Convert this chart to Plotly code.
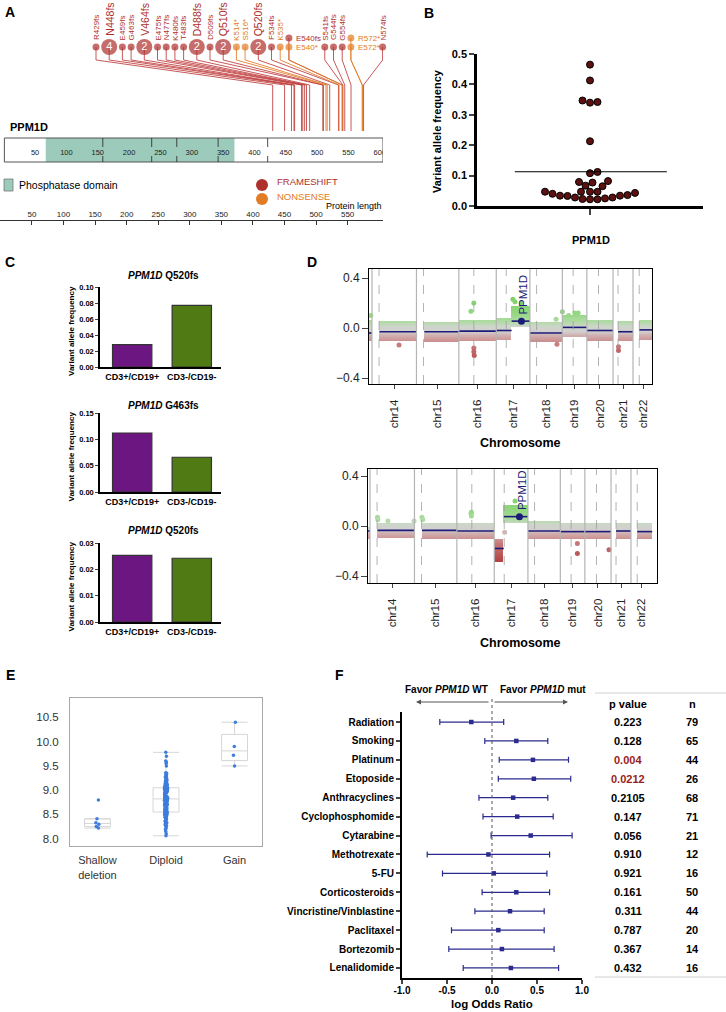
import numpy as np
import plotly.graph_objects as go

W, H = 726, 1012
FONT = "Liberation Sans, Arial, Helvetica, sans-serif"


def X(px):
    return px / W


def Y(py):
    return 1 - py / H


def xdom(a, b):
    return [X(a), X(b)]


def ydom(top, bot):
    return [Y(bot), Y(top)]


RED = "#AE2F2C"
ORANGE = "#E27B24"
RED_LINE = "rgba(190,60,60,0.85)"
ORANGE_LINE = "rgba(226,123,36,0.85)"
TEAL = "#9CCBBB"
PURPLE = "#6C1681"
GREEN = "#4F7A14"
NAVY = "#1C1C78"
BLUE_PT = "#3D7DDB"
FOREST = "#2B2B8F"

# ======================= DATA =======================
# --- A: PPM1D truncating mutations
mut_labels = ["R429fs", "N448fs", "E459fs", "G463fs", "V464fs", "E475fs", "N477fs",
              "K480fs", "T483fs", "D488fs", "D509fs", "Q510fs", "K514*", "S516*",
              "Q520fs", "F534fs", "K535*", "E540fs", "E540*", "S541fs", "G544fs",
              "G554fs", "R572*", "E572*", "N574fs"]
mut_pos = [429, 448, 459, 463, 464, 475, 477, 480, 483, 488, 509, 510, 514, 516,
           520, 534, 535, 540, 540, 541, 544, 554, 572, 572, 574]
mut_type = (["FRAMESHIFT"] * 12 + ["NONSENSE"] * 2 + ["FRAMESHIFT"] * 2 + ["NONSENSE"]
            + ["FRAMESHIFT", "NONSENSE"] + ["FRAMESHIFT"] * 3 + ["NONSENSE"] * 2 + ["FRAMESHIFT"])
mut_count = [1, 4, 1, 1, 2, 1, 1, 1, 1, 2, 1, 2, 1, 1, 2, 1, 1, 1, 1, 1, 1, 1, 1, 1, 1]
protein_start, protein_end = 1, 605
domain_start, domain_end = 67, 368
exon_bounds = [158, 236, 276, 342, 421]
bar_labels = [50, 100, 150, 200, 250, 300, 350, 400, 450, 500, 550, 600]
ruler_ticks = [50, 100, 150, 200, 250, 300, 350, 400, 450, 500, 550]

# --- B: VAF of PPM1D mutations
vaf_values = [0.465, 0.413, 0.342, 0.340, 0.347, 0.213, 0.112, 0.108, 0.082, 0.077,
              0.079, 0.067, 0.065, 0.047, 0.047, 0.047, 0.047, 0.040, 0.034, 0.033,
              0.028, 0.023, 0.022, 0.022, 0.025, 0.028, 0.034, 0.036, 0.043]

# --- C: sorted fractions
c_mutations = ["Q520fs", "G463fs", "Q520fs"]
c_groups = ["CD3+/CD19+", "CD3-/CD19-"]
c_vaf = [[0.028, 0.077], [0.112, 0.066], [0.0253, 0.0242]]
c_ymax = [0.10, 0.15, 0.03]
c_dtick = [0.02, 0.05, 0.01]

# --- D: copy number
chrom_names = ["chr13", "chr14", "chr15", "chr16", "chr17", "chr18", "chr19", "chr20", "chr21", "chr22"]
chrom_len = [115, 107, 102, 90, 81, 78, 59, 63, 48, 51]
chrom_cen = [17, 17, 17, 36, 24, 16, 26, 28, 12, 15]
ppm1d_chrom, ppm1d_mb = "chr17", 60.6

d1_chr = ["chr13", "chr14", "chr15", "chr16", "chr17", "chr17", "chr18", "chr19", "chr20", "chr21", "chr22"]
d1_start = [105, 18, 19, 0, 0, 37, 0, 0, 0, 12, 15]
d1_end = [115, 107, 102, 90, 37, 81, 78, 59, 63, 48, 51]
d1_mean = [-0.04, -0.03, -0.03, -0.025, -0.02, 0.055, -0.04, 0.005, -0.02, -0.03, -0.015]
d1_lo = [-0.10, -0.10, -0.11, -0.10, -0.095, 0.01, -0.11, -0.07, -0.10, -0.10, -0.09]
d1_hi = [0.07, 0.06, 0.055, 0.07, 0.08, 0.18, 0.05, 0.11, 0.07, 0.06, 0.07]
d1_out_chr = ["chr13", "chr14", "chr16", "chr16", "chr16", "chr16", "chr16", "chr17", "chr17",
              "chr17", "chr18", "chr18", "chr19", "chr19", "chr19", "chr19", "chr21", "chr21"]
d1_out_mb = [112, 65, 29, 36, 36, 36, 37, 40, 45, 60, 65, 63, 0, 15, 30, 38, 13, 13]
d1_out_val = [0.10, -0.135, 0.135, 0.20, -0.16, -0.19, -0.22, 0.23, 0.21, 0.20, -0.13, 0.07,
              0.13, 0.10, 0.12, 0.12, -0.15, -0.18]

d2_chr = ["chr13", "chr14", "chr15", "chr16", "chr17", "chr17", "chr18", "chr19", "chr20", "chr21", "chr22"]
d2_start = [108, 18, 18, 0, 0, 23, 0, 0, 0, 12, 15]
d2_end = [115, 107, 102, 90, 23, 81, 78, 59, 63, 48, 51]
d2_mean = [-0.04, -0.035, -0.035, -0.04, -0.18, 0.075, -0.04, -0.045, -0.045, -0.04, -0.045]
d2_lo = [-0.10, -0.095, -0.10, -0.10, -0.28, 0.03, -0.10, -0.10, -0.10, -0.10, -0.10]
d2_hi = [0.0, 0.03, 0.03, 0.025, -0.10, 0.17, 0.04, 0.03, 0.03, 0.03, 0.025]
d2_out_chr = ["chr14", "chr14", "chr14", "chr14", "chr15", "chr15", "chr16", "chr16", "chr16",
              "chr17", "chr17", "chr19", "chr19", "chr20"]
d2_out_mb = [18, 19, 43, 106, 18, 20, 34, 35, 35, 25, 50, 41, 41, 58]
d2_out_val = [0.07, 0.05, 0.04, 0.04, 0.07, 0.05, 0.10, 0.11, 0.08, -0.05, 0.20, -0.14, -0.22, -0.19]

# --- E: expression by copy number
e_categories = ["Shallow<br>deletion", "Diploid", "Gain"]
e_shallow = [8.22, 8.25, 8.30, 8.33, 8.41, 8.80]
e_diploid = [8.06, 8.10, 8.15, 8.19, 8.22, 8.25, 8.27, 8.29, 8.31, 8.33, 8.35, 8.36, 8.38, 8.39,
             8.41, 8.42, 8.43, 8.44, 8.45, 8.46, 8.47, 8.48, 8.49, 8.50, 8.50, 8.51, 8.52, 8.52,
             8.53, 8.53, 8.54, 8.54, 8.55,
             8.56, 8.57, 8.58, 8.59, 8.60, 8.61, 8.62, 8.63, 8.64, 8.65, 8.66, 8.67, 8.68, 8.69,
             8.70, 8.71, 8.71, 8.72, 8.73, 8.74, 8.75, 8.76, 8.76, 8.77, 8.78, 8.78, 8.79, 8.80,
             8.80, 8.81, 8.81, 8.82, 8.82,
             8.83, 8.84, 8.85, 8.85, 8.86, 8.87, 8.88, 8.88, 8.89, 8.90, 8.91, 8.91, 8.92, 8.93,
             8.94, 8.94, 8.95, 8.96, 8.97, 8.97, 8.98, 8.99, 9.00, 9.00, 9.01, 9.02, 9.02, 9.03,
             9.03, 9.04, 9.04, 9.05, 9.05,
             9.06, 9.07, 9.08, 9.09, 9.10, 9.11, 9.12, 9.13, 9.14, 9.15, 9.16, 9.17, 9.18, 9.19,
             9.20, 9.21, 9.22, 9.24, 9.25, 9.27, 9.29, 9.30, 9.32, 9.33, 9.35, 9.36, 9.50, 9.55,
             9.58, 9.60, 9.70, 9.78]
e_gain = [9.50, 9.72, 9.90, 10.40]

# --- F: forest plot
drugs = ["Radiation", "Smoking", "Platinum", "Etoposide", "Anthracyclines", "Cyclophosphomide",
         "Cytarabine", "Methotrexate", "5-FU", "Corticosteroids", "Vincristine/Vinblastine",
         "Paclitaxel", "Bortezomib", "Lenalidomide"]
log_or = [-0.23, 0.27, 0.455, 0.465, 0.235, 0.28, 0.43, -0.04, 0.02, 0.27, 0.20, 0.07, 0.11, 0.21]
ci_low = [-0.58, -0.08, 0.08, 0.07, -0.145, -0.10, -0.01, -0.72, -0.55, -0.11, -0.19, -0.45, -0.48, -0.32]
ci_high = [0.13, 0.62, 0.85, 0.875, 0.62, 0.68, 0.89, 0.64, 0.61, 0.64, 0.58, 0.58, 0.69, 0.74]
p_values = ["0.223", "0.128", "0.004", "0.0212", "0.2105", "0.147", "0.056", "0.910", "0.921",
            "0.161", "0.311", "0.787", "0.367", "0.432"]
n_patients = [79, 65, 44, 26, 68, 71, 21, 12, 16, 50, 44, 20, 14, 16]

# ======================= FIGURE =======================
fig = go.Figure()
shapes = []
ann = []


def txt(x, y, text, size=10, color="black", xanchor="center", yanchor="middle", angle=0,
        xref="paper", yref="paper", **kw):
    ann.append(dict(x=x, y=y, text=text, xref=xref, yref=yref, showarrow=False,
                    xanchor=xanchor, yanchor=yanchor, textangle=angle,
                    font=dict(family=FONT, size=size, color=color), **kw))


# ---------- Panel A ----------
A_PX = (0, 383)
A_RANGE = (-6, 605)
upp = (A_RANGE[1] - A_RANGE[0]) / (A_PX[1] - A_PX[0])


def a_unit(px):
    return A_RANGE[0] + (px - A_PX[0]) * upp


HEAD_Y, STACK_DY = 47, 9
R_SMALL, R_LARGE, GAP, CHAR_W = 3.5, 8.0, 1.7, 4.2
FIRST_HEAD_PX = 96
KINK_Y, DIAG_Y, STEM_END_Y = 60, 85, 131
BAR_TOP, BAR_BOT = 138, 162

nm = len(mut_pos)
groups = []
for i, p in enumerate(mut_pos):
    if groups and mut_pos[groups[-1][-1]] == p:
        groups[-1].append(i)
    else:
        groups.append([i])

head_px = [0.0] * nm
head_y = [0.0] * nm
stacked = [False] * nm
right = None
for g in groups:
    r = max(R_LARGE if mut_count[i] > 1 else R_SMALL for i in g)
    cx = FIRST_HEAD_PX if right is None else right + GAP + r
    for k, i in enumerate(g):
        head_px[i] = cx
        head_y[i] = HEAD_Y - STACK_DY * (len(g) - 1 - k)
        stacked[i] = len(g) > 1
    right = cx + r
    if len(g) > 1:
        right += 2 + max(len(mut_labels[i]) for i in g) * CHAR_W

type_col = {"FRAMESHIFT": RED, "NONSENSE": ORANGE}
type_line = {"FRAMESHIFT": RED_LINE, "NONSENSE": ORANGE_LINE}

# bar + domain
shapes.append(dict(type="rect", xref="x", yref="y", x0=domain_start, x1=domain_end,
                   y0=BAR_TOP, y1=BAR_BOT, fillcolor=TEAL, line=dict(width=0), layer="below"))
shapes.append(dict(type="rect", xref="x", yref="y", x0=protein_start, x1=protein_end,
                   y0=BAR_TOP, y1=BAR_BOT, fillcolor="rgba(0,0,0,0)", line=dict(color="#555", width=1)))
for b in exon_bounds:
    shapes.append(dict(type="line", xref="x", yref="y", x0=b, x1=b, y0=BAR_TOP, y1=BAR_BOT,
                       line=dict(color="#222", width=0.8, dash="dash")))
fig.add_trace(go.Scatter(x=bar_labels, y=[153] * len(bar_labels), text=[str(v) for v in bar_labels],
                         mode="text", textfont=dict(family=FONT, size=7.5, color="#222"),
                         xaxis="x", yaxis="y", hoverinfo="skip", cliponaxis=True))

for typ in ["FRAMESHIFT", "NONSENSE"]:
    xs, ys = [], []
    for i in range(nm):
        if mut_type[i] != typ:
            continue
        hx = a_unit(head_px[i])
        xs += [hx, hx, mut_pos[i], mut_pos[i], None]
        ys += [head_y[i], KINK_Y, DIAG_Y, STEM_END_Y, None]
    fig.add_trace(go.Scatter(x=xs, y=ys, mode="lines", line=dict(color=type_line[typ], width=1),
                             xaxis="x", yaxis="y", hoverinfo="skip"))
for typ in ["FRAMESHIFT", "NONSENSE"]:
    idx = [i for i in range(nm) if mut_type[i] == typ]
    fig.add_trace(go.Scatter(
        x=[a_unit(head_px[i]) for i in idx], y=[head_y[i] for i in idx],
        mode="markers+text",
        marker=dict(size=[2 * (R_LARGE if mut_count[i] > 1 else R_SMALL) for i in idx],
                    color=type_col[typ], line=dict(width=0)),
        text=[str(mut_count[i]) if mut_count[i] > 1 else "" for i in idx],
        textposition="middle center", textfont=dict(family=FONT, size=11, color="white"),
        xaxis="x", yaxis="y", hoverinfo="skip", cliponaxis=False))

for i in range(nm):
    big = mut_count[i] > 1
    r = R_LARGE if big else R_SMALL
    if stacked[i]:
        txt(a_unit(head_px[i] + r + 2), head_y[i], mut_labels[i], size=8, color=type_col[mut_type[i]],
            xanchor="left", yanchor="middle", xref="x", yref="y")
    else:
        txt(a_unit(head_px[i]), head_y[i] - r - 1, mut_labels[i], size=10.5 if big else 8,
            color=type_col[mut_type[i]], xanchor="center", yanchor="bottom", angle=-90,
            xref="x", yref="y")

txt(X(8), Y(127), "<b>PPM1D</b>", size=11, xanchor="left")
# legend
shapes.append(dict(type="rect", xref="paper", yref="paper", x0=X(4), x1=X(13), y0=Y(191), y1=Y(179),
                   fillcolor=TEAL, line=dict(color="#777", width=0.8)))
txt(X(17), Y(185), "Phosphatase domain", size=10.5, xanchor="left")
fig.add_trace(go.Scatter(x=[a_unit(262), a_unit(262)], y=[185, 199], mode="markers",
                         marker=dict(size=12, color=[RED, ORANGE]), xaxis="x", yaxis="y",
                         hoverinfo="skip", cliponaxis=False))
txt(X(275), Y(182), "FRAMESHIFT", size=9.5, color=RED, xanchor="left")
txt(X(275), Y(196), "NONSENSE", size=9.5, color=ORANGE, xanchor="left")
txt(X(384), Y(206), "Protein length", size=9, xanchor="right")
# ruler axis needs a trace
fig.add_trace(go.Scatter(x=[ruler_ticks[0]], y=[0], mode="markers", marker=dict(opacity=0),
                         xaxis="x2", yaxis="y", hoverinfo="skip"))
txt(X(10), Y(12), "<b>A</b>", size=14)

# ---------- Panel B ----------
B_XPX, B_YPX = (477, 703), (54, 206)
B_XR, B_YR = (-1.0, 1.0), (0.0, 0.5)
px_x = (B_XPX[1] - B_XPX[0]) / (B_XR[1] - B_XR[0])
px_y = (B_YPX[1] - B_YPX[0]) / (B_YR[1] - B_YR[0])
DOT = 7.4
bv = np.array(vaf_values)
order = np.argsort(bv, kind="stable")
placed = []
off = np.zeros(len(bv))
cands = [0.0]
for j in range(1, 400):
    cands += [0.5 * j, -0.5 * j]
for i in order:
    yp = bv[i] * px_y
    for c in cands:
        if all((c - qx) ** 2 + (yp - qy) ** 2 >= DOT ** 2 for qx, qy in placed):
            break
    placed.append((c, yp))
    off[i] = c / px_x
fig.add_trace(go.Scatter(x=off, y=bv, mode="markers",
                         marker=dict(size=7, color="#5C1010", line=dict(color="black", width=1)),
                         xaxis="x3", yaxis="y3", hoverinfo="skip", cliponaxis=False))
mean_vaf = float(np.mean(bv))
shapes.append(dict(type="line", xref="x3", yref="y3", x0=-0.665, x1=0.68, y0=mean_vaf, y1=mean_vaf,
                   line=dict(color="black", width=1.2)))
txt(X(437), Y(131), "<b>Variant allele frequency</b>", size=11, angle=-90)
txt(X(591), Y(240), "<b>PPM1D</b>", size=11)
txt(X(429), Y(13), "<b>B</b>", size=14)

# ---------- Panel C ----------
C_YPX = [(287, 367), (413, 492), (543, 622)]
C_TITLE_Y = [275, 405, 530]
for k in range(3):
    n = 4 + k
    fig.add_trace(go.Bar(x=c_groups, y=c_vaf[k], width=0.66,
                         marker=dict(color=[PURPLE, GREEN], line=dict(color="#333", width=1.2)),
                         xaxis=f"x{n}", yaxis=f"y{n}", hoverinfo="skip"))
    txt(X(163), Y(C_TITLE_Y[k]), f"<b><i>PPM1D</i> {c_mutations[k]}</b>", size=10)
    mid = (C_YPX[k][0] + C_YPX[k][1]) / 2 + 4
    txt(X(71), Y(mid), "<b>Variant allele frequency</b>", size=8, angle=-90)
txt(X(10), Y(262), "<b>C</b>", size=14)

# ---------- Panel D ----------
chrom_off = {}
acc = -chrom_len[0]
for c, L in zip(chrom_names, chrom_len):
    chrom_off[c] = acc
    acc += L

CN_ZMIN, CN_ZMAX = -0.30, 0.25
cn_stops = [(-0.30, "#b23b3b"), (-0.14, "#c67878"), (-0.07, "#d0a6a6"), (-0.025, "#d3cfcf"),
            (0.015, "#ccd6c9"), (0.05, "#b0dba4"), (0.12, "#94d782"), (0.25, "#7fcf66")]
cn_scale = [[(v - CN_ZMIN) / (CN_ZMAX - CN_ZMIN), c] for v, c in cn_stops]

D_CFG = [
    dict(n=7, xr=(-7.2, 673.7), yr=(-0.448, 0.472), chr=d1_chr, s=d1_start, e=d1_end, m=d1_mean,
         lo=d1_lo, hi=d1_hi, oc=d1_out_chr, om=d1_out_mb, ov=d1_out_val, title_y=443),
    dict(n=8, xr=(-4.8, 690.6), yr=(-0.456, 0.456), chr=d2_chr, s=d2_start, e=d2_end, m=d2_mean,
         lo=d2_lo, hi=d2_hi, oc=d2_out_chr, om=d2_out_mb, ov=d2_out_val, title_y=643),
]
xgrid = np.arange(-8, 700, 1.2)
ygrid = np.arange(-0.45, 0.475, 0.005)
for cfg in D_CFG:
    n = cfg["n"]
    z = np.full((len(ygrid), len(xgrid)), np.nan)
    for c, s, e, lo, hi in zip(cfg["chr"], cfg["s"], cfg["e"], cfg["lo"], cfg["hi"]):
        o = chrom_off[c]
        mx = (xgrid >= o + s) & (xgrid < o + e)
        my = (ygrid >= lo) & (ygrid <= hi)
        z[np.ix_(my, mx)] = np.repeat(ygrid[my][:, None], mx.sum(), axis=1)
    fig.add_trace(go.Heatmap(x=xgrid, y=ygrid, z=z, colorscale=cn_scale, zmin=CN_ZMIN, zmax=CN_ZMAX,
                             showscale=False, hoverinfo="skip", xaxis=f"x{n}", yaxis=f"y{n}"))
    fig.add_trace(go.Scatter(x=[chrom_off[c] + p for c, p in zip(cfg["oc"], cfg["om"])], y=cfg["ov"],
                             mode="markers",
                             marker=dict(size=5, color=cfg["ov"], colorscale=cn_scale,
                                         cmin=CN_ZMIN, cmax=CN_ZMAX, line=dict(width=0)),
                             xaxis=f"x{n}", yaxis=f"y{n}", hoverinfo="skip"))
    sx, sy = [], []
    for c, s, e, m in zip(cfg["chr"], cfg["s"], cfg["e"], cfg["m"]):
        o = chrom_off[c]
        sx += [o + s, o + e, None]
        sy += [m, m, None]
    fig.add_trace(go.Scatter(x=sx, y=sy, mode="lines", line=dict(color=NAVY, width=1.6),
                             xaxis=f"x{n}", yaxis=f"y{n}", hoverinfo="skip"))
    # PPM1D marker
    pm = None
    for c, s, e, m in zip(cfg["chr"], cfg["s"], cfg["e"], cfg["m"]):
        if c == ppm1d_chrom and s <= ppm1d_mb < e:
            pm = m
    px_ = chrom_off[ppm1d_chrom] + ppm1d_mb
    fig.add_trace(go.Scatter(x=[px_], y=[pm], mode="markers", marker=dict(size=7, color=NAVY),
                             xaxis=f"x{n}", yaxis=f"y{n}", hoverinfo="skip"))
    txt(px_, pm, "PPM1D", size=11.5, color=NAVY, xanchor="center", yanchor="bottom", angle=-90,
        xref=f"x{n}", yref=f"y{n}", yshift=5, xshift=2)
    # chromosome boundaries / centromeres
    for c, cen in zip(chrom_names, chrom_cen):
        o = chrom_off[c]
        if cfg["xr"][0] < o < cfg["xr"][1]:
            shapes.append(dict(type="line", xref=f"x{n}", yref=f"y{n} domain", x0=o, x1=o, y0=0, y1=1,
                               line=dict(color="#b4b4b4", width=1.2)))
        if cfg["xr"][0] < o + cen < cfg["xr"][1]:
            shapes.append(dict(type="line", xref=f"x{n}", yref=f"y{n} domain", x0=o + cen, x1=o + cen,
                               y0=0, y1=1, line=dict(color="#a0a0a0", width=0.8, dash="dash")))
    txt(X(520), Y(cfg["title_y"]), "<b>Chromosome</b>", size=12.5)
txt(X(312), Y(262), "<b>D</b>", size=14)

chrom_centers = [chrom_off[c] + L / 2 for c, L in zip(chrom_names[1:], chrom_len[1:])]

# ---------- Panel E ----------
ex, ey = [], []
for cat, vals in zip(e_categories, [e_shallow, e_diploid, e_gain]):
    ex += [cat] * len(vals)
    ey += vals
fig.add_trace(go.Box(x=ex, y=ey, boxpoints="all", jitter=0.14, pointpos=0, quartilemethod="exclusive",
                     whiskerwidth=1, fillcolor="rgba(255,255,255,0)", line=dict(color="#d6d6d6", width=1),
                     marker=dict(size=3.5, color=BLUE_PT), xaxis="x9", yaxis="y9", hoverinfo="skip"))
txt(X(10), Y(675), "<b>E</b>", size=14)

# ---------- Panel F ----------
rows = list(range(len(drugs)))
fig.add_trace(go.Scatter(
    x=log_or, y=rows, mode="markers",
    marker=dict(size=4.5, color=FOREST, symbol="square"),
    error_x=dict(type="data", symmetric=False,
                 array=[h - c for h, c in zip(ci_high, log_or)],
                 arrayminus=[c - l for c, l in zip(log_or, ci_low)],
                 color=FOREST, thickness=1.2, width=3),
    xaxis="x10", yaxis="y10", hoverinfo="skip"))
shapes.append(dict(type="line", xref="x10", yref="paper", x0=0, x1=0, y0=Y(978), y1=Y(696),
                   line=dict(color="#555", width=1, dash="dot")))
# arrows
ann.append(dict(x=X(416), y=Y(702), xref="paper", yref="paper", ax=74, ay=0, text="", showarrow=True,
                arrowhead=2, arrowsize=1, arrowwidth=1, arrowcolor="#555"))
ann.append(dict(x=X(568), y=Y(702), xref="paper", yref="paper", ax=-75, ay=0, text="", showarrow=True,
                arrowhead=2, arrowsize=1, arrowwidth=1, arrowcolor="#555"))
txt(X(446), Y(689), "<b>Favor <i>PPM1D</i> WT</b>", size=10)
txt(X(543), Y(689), "<b>Favor <i>PPM1D</i> mut</b>", size=10)
txt(X(492), Y(1004), "<b>log Odds Ratio</b>", size=11.5)
# table
shapes.append(dict(type="line", xref="paper", yref="paper", x0=X(595), x1=X(726), y0=Y(693), y1=Y(693),
                   line=dict(color="#d0d0d0", width=1)))
shapes.append(dict(type="line", xref="paper", yref="paper", x0=X(595), x1=X(726), y0=Y(977), y1=Y(977),
                   line=dict(color="#d0d0d0", width=1)))
txt(X(628), Y(704), "<b>p value</b>", size=11)
txt(X(692), Y(704), "<b>n</b>", size=11)
for r, pv, nn in zip(rows, p_values, n_patients):
    col = "#9B1C1C" if float(pv) < 0.05 else "black"
    txt(X(628), r, f"<b>{pv}</b>", size=11, color=col, yref="y10")
    txt(X(692), r, f"<b>{nn}</b>", size=11, yref="y10")
txt(X(339), Y(675), "<b>F</b>", size=14)

# ======================= LAYOUT =======================
hidden = dict(visible=False, showgrid=False, zeroline=False, automargin=False)
bold = lambda s, c="black": dict(family=FONT, size=s, color=c, weight="bold")
layout = dict(
    template="none",
    width=W, height=H, margin=dict(l=0, r=0, t=0, b=0, autoexpand=False),
    paper_bgcolor="white", plot_bgcolor="white", showlegend=False,
    font=dict(family=FONT, size=10, color="black"),
    boxgap=0.46,
    xaxis=dict(domain=xdom(*A_PX), range=list(A_RANGE), anchor="y", **hidden),
    yaxis=dict(domain=ydom(0, 230), range=[230, 0], anchor="x", **hidden),
    xaxis2=dict(domain=xdom(*A_PX), range=[-0.6, 606], anchor="free", position=Y(220), side="top",
                overlaying="x", tickvals=ruler_ticks, ticks="inside", ticklen=4, tickcolor="#333",
                showline=True, linecolor="#333", linewidth=1, showgrid=False, zeroline=False,
                tickfont=dict(family=FONT, size=8, color="#222")),
    xaxis3=dict(domain=xdom(*B_XPX), range=list(B_XR), anchor="y3", showline=True, linecolor="black",
                linewidth=2.5, ticks="outside", tickvals=[0], ticklen=6, tickwidth=2, showticklabels=False,
                showgrid=False, zeroline=False),
    yaxis3=dict(domain=ydom(*B_YPX), range=list(B_YR), anchor="x3", showline=True, linecolor="black",
                linewidth=2.5, ticks="outside", ticklen=5, tickwidth=2, dtick=0.1, tickformat=".1f",
                tickfont=bold(11), showgrid=False, zeroline=False),
    xaxis7=dict(domain=xdom(369, 652), range=list(D_CFG[0]["xr"]), anchor="y7", showline=True, mirror=True,
                linecolor="black", linewidth=1, ticks="outside", ticklen=4, tickvals=chrom_centers,
                ticktext=chrom_names[1:], tickangle=-90, ticklabelstandoff=6,
                tickfont=dict(family=FONT, size=11.5, color="#222"), showgrid=False, zeroline=False),
    yaxis7=dict(domain=ydom(269, 384), range=list(D_CFG[0]["yr"]), anchor="x7", showline=True, mirror=True,
                linecolor="black", linewidth=1, ticks="outside", ticklen=6, tickvals=[-0.4, 0, 0.4],
                ticktext=["\u22120.4", "0.0", "0.4"], tickfont=dict(family=FONT, size=12, color="#222"),
                showgrid=False, zeroline=False),
    xaxis8=dict(domain=xdom(368, 657), range=list(D_CFG[1]["xr"]), anchor="y8", showline=True, mirror=True,
                linecolor="black", linewidth=1, ticks="outside", ticklen=4, tickvals=chrom_centers,
                ticktext=chrom_names[1:], tickangle=-90, ticklabelstandoff=6,
                tickfont=dict(family=FONT, size=11.5, color="#222"), showgrid=False, zeroline=False),
    yaxis8=dict(domain=ydom(469, 583), range=list(D_CFG[1]["yr"]), anchor="x8", showline=True, mirror=True,
                linecolor="black", linewidth=1, ticks="outside", ticklen=6, tickvals=[-0.4, 0, 0.4],
                ticktext=["\u22120.4", "0.0", "0.4"], tickfont=dict(family=FONT, size=12, color="#222"),
                showgrid=False, zeroline=False),
    xaxis9=dict(domain=xdom(70, 262), range=[-0.4, 2.4], anchor="y9", type="category",
                categoryorder="array", categoryarray=e_categories, showline=True, mirror=True,
                linecolor="#a8a8a8", linewidth=1, ticks="", ticklabelstandoff=4,
                tickfont=dict(family=FONT, size=11, color="#333"), showgrid=False, zeroline=False),
    yaxis9=dict(domain=ydom(698, 846), range=[7.85, 10.9], anchor="x9", showline=True, mirror=True,
                linecolor="#a8a8a8", linewidth=1, ticks="", dtick=0.5, tick0=8.0, tickformat=".1f",
                ticklabelstandoff=8, tickfont=dict(family=FONT, size=11.5, color="#333"),
                showgrid=False, zeroline=False),
    xaxis10=dict(domain=xdom(402, 582), range=[-1, 1], anchor="y10", showline=True, linecolor="black",
                 linewidth=2, ticks="outside", ticklen=4, tickwidth=1.5, ticklabelstandoff=-2,
                 tickvals=[-1, -0.5, 0, 0.5, 1], ticktext=["-1.0", "-0.5", "0.0", "0.5", "1.0"],
                 tickfont=bold(10), showgrid=False, zeroline=False),
    yaxis10=dict(domain=ydom(712, 978), range=[len(drugs) - 0.5 + 0.03, -0.53], anchor="x10", showline=True,
                 linecolor="black", linewidth=2, ticks="outside", ticklen=4, tickwidth=1.5,
                 tickvals=rows, ticktext=drugs, tickfont=bold(10), showgrid=False, zeroline=False),
    shapes=shapes, annotations=ann,
)
for k in range(3):
    n = 4 + k
    layout[f"xaxis{n}"] = dict(domain=xdom(100, 221), range=[-0.54, 1.49], anchor=f"y{n}", type="category",
                               showline=True, linecolor="black", linewidth=1.5, ticks="",
                               tickfont=bold(9), showgrid=False, zeroline=False)
    layout[f"yaxis{n}"] = dict(domain=ydom(*C_YPX[k]), range=[0, c_ymax[k]], anchor=f"x{n}", showline=True,
                               linecolor="black", linewidth=1.5, ticks="outside", ticklen=3, tickwidth=1.2,
                               dtick=c_dtick[k], tickformat=".2f", tickfont=bold(7.5),
                               showgrid=False, zeroline=False)
for key, val in layout.items():
    if key.startswith(("xaxis", "yaxis")):
        val["automargin"] = False
fig.update_layout(**layout)
fig.write_html("out.html", config={"displayModeBar": False},
               post_script="document.body.style.margin='0px';document.body.style.overflow='hidden';")
